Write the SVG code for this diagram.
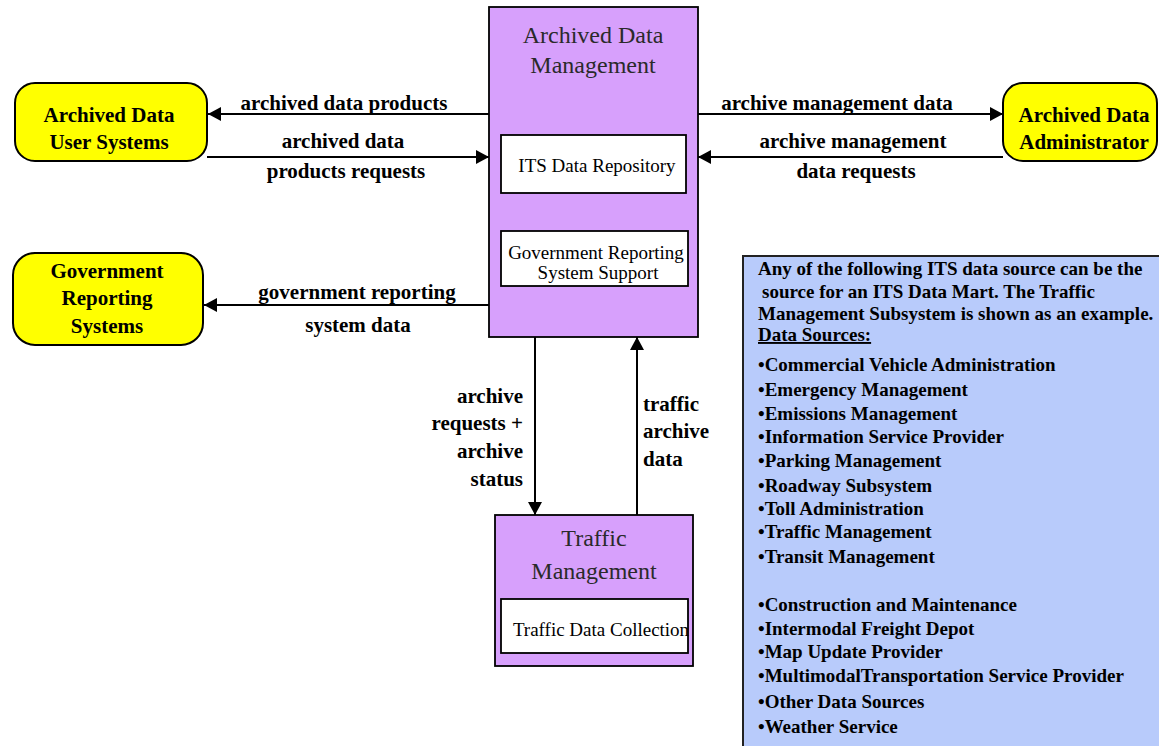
<svg xmlns="http://www.w3.org/2000/svg" width="1159" height="746" viewBox="0 0 1159 746">
<style>
.ext{fill:#ffff00;stroke:#000;stroke-width:2}
.sub{fill:#d7a0fc;stroke:#000;stroke-width:1.8}
.inner{fill:#fff;stroke:#000;stroke-width:1.8}
.lbl{font-family:"Liberation Serif",serif;font-weight:bold;font-size:21px;fill:#000}
.ttl{font-family:"Liberation Serif",serif;font-size:24px;fill:#2a2a2a;text-anchor:middle}
.in{font-family:"Liberation Serif",serif;font-size:19px;fill:#000;text-anchor:middle}
.note{font-family:"Liberation Serif",serif;font-weight:bold;font-size:19px;fill:#000}
.c{text-anchor:middle}
.e{text-anchor:end}
.ln{stroke:#000;stroke-width:2;fill:none}
</style>
<defs>
<marker id="ah" markerUnits="userSpaceOnUse" markerWidth="14" markerHeight="14" refX="13" refY="7" orient="auto">
<path d="M0,0 L13,7 L0,14 z" fill="#000"/>
</marker>
</defs>
<rect width="1159" height="746" fill="#fff"/>

<g id="connectors">
<line class="ln" x1="489" y1="114" x2="208" y2="114" marker-end="url(#ah)"/>
<line class="ln" x1="207" y1="157" x2="489" y2="157" marker-end="url(#ah)"/>
<line class="ln" x1="698" y1="114" x2="1003" y2="114" marker-end="url(#ah)"/>
<line class="ln" x1="1003" y1="157" x2="698" y2="157" marker-end="url(#ah)"/>
<line class="ln" x1="489" y1="305" x2="204" y2="305" marker-end="url(#ah)"/>
<line class="ln" x1="535" y1="337" x2="535" y2="515" marker-end="url(#ah)"/>
<line class="ln" x1="637" y1="515" x2="637" y2="337" marker-end="url(#ah)"/>
<text class="lbl c" x="344" y="110">archived data products</text>
<text class="lbl c" x="343" y="148">archived data</text>
<text class="lbl c" x="346" y="178">products requests</text>
<text class="lbl c" x="837" y="110">archive management data</text>
<text class="lbl c" x="853" y="148">archive management</text>
<text class="lbl c" x="856" y="178">data requests</text>
<text class="lbl c" x="357" y="299">government reporting</text>
<text class="lbl c" x="358" y="332">system data</text>
<text class="lbl e" x="523" y="403">archive</text>
<text class="lbl e" x="523" y="430">requests +</text>
<text class="lbl e" x="523" y="458">archive</text>
<text class="lbl e" x="523" y="486">status</text>
<text class="lbl" x="643" y="411">traffic</text>
<text class="lbl" x="643" y="438">archive</text>
<text class="lbl" x="643" y="466">data</text>
</g>

<g id="adm">
<rect class="sub" x="489" y="7" width="209" height="330"/>
<text class="ttl" x="593" y="43">Archived Data</text>
<text class="ttl" x="593" y="73">Management</text>
<rect class="inner" x="501" y="135" width="185" height="58"/>
<text class="in" x="597" y="172">ITS Data Repository</text>
<rect class="inner" x="501" y="231" width="187" height="55"/>
<text class="in" x="596" y="259">Government Reporting</text>
<text class="in" x="598" y="279">System Support</text>
</g>

<g id="user-systems">
<rect class="ext" x="15" y="83" width="192" height="78" rx="20"/>
<text class="lbl c" x="109" y="122">Archived Data</text>
<text class="lbl c" x="109" y="149">User Systems</text>
</g>

<g id="administrator">
<rect class="ext" x="1003" y="83" width="154" height="78" rx="20"/>
<text class="lbl c" x="1084" y="122">Archived Data</text>
<text class="lbl c" x="1084" y="149">Administrator</text>
</g>

<g id="gov-reporting">
<rect class="ext" x="13" y="253" width="190" height="92" rx="22"/>
<text class="lbl c" x="107" y="278">Government</text>
<text class="lbl c" x="107" y="305">Reporting</text>
<text class="lbl c" x="107" y="333">Systems</text>
</g>

<g id="traffic-management">
<rect class="sub" x="495" y="515" width="198" height="151"/>
<text class="ttl" x="594" y="546">Traffic</text>
<text class="ttl" x="594" y="579">Management</text>
<rect class="inner" x="501" y="599" width="187" height="54"/>
<text class="in" x="601" y="636">Traffic Data Collection</text>
</g>

<g id="data-sources-note">
<rect x="743" y="256" width="430" height="500" fill="#b8cbfb" stroke="#222" stroke-width="2"/>
<text class="note" x="758" y="275">Any of the following ITS data source can be the</text>
<text class="note" x="762" y="298">source for an ITS Data Mart. The Traffic</text>
<text class="note" x="758" y="320">Management Subsystem is shown as an example.</text>
<text class="note" x="758" y="341" text-decoration="underline">Data Sources:</text>
<text class="note" x="758" y="371">•Commercial Vehicle Administration</text>
<text class="note" x="758" y="396">•Emergency Management</text>
<text class="note" x="758" y="420">•Emissions Management</text>
<text class="note" x="758" y="443">•Information Service Provider</text>
<text class="note" x="758" y="467">•Parking Management</text>
<text class="note" x="758" y="492">•Roadway Subsystem</text>
<text class="note" x="758" y="515">•Toll Administration</text>
<text class="note" x="758" y="538">•Traffic Management</text>
<text class="note" x="758" y="563">•Transit Management</text>
<text class="note" x="758" y="611">•Construction and Maintenance</text>
<text class="note" x="758" y="635">•Intermodal Freight Depot</text>
<text class="note" x="758" y="658">•Map Update Provider</text>
<text class="note" x="758" y="682">•MultimodalTransportation Service Provider</text>
<text class="note" x="758" y="708">•Other Data Sources</text>
<text class="note" x="758" y="733">•Weather Service</text>
</g>
</svg>
